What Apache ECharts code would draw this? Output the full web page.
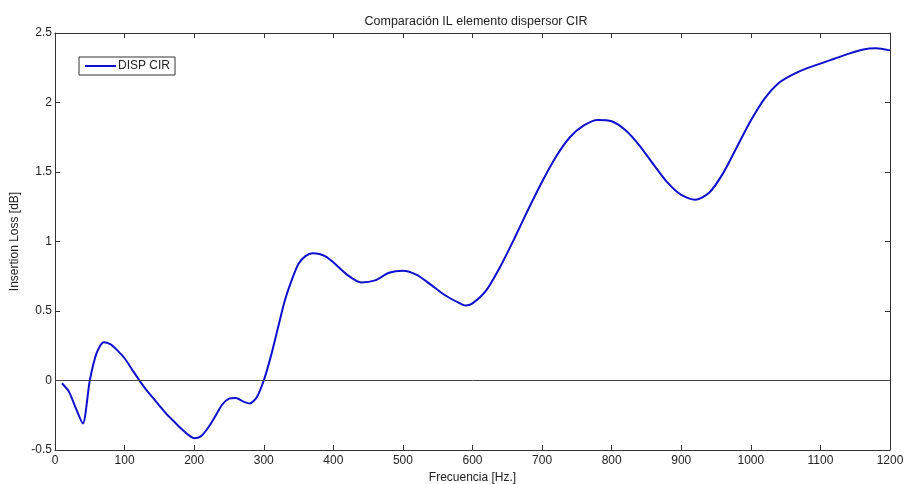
<!DOCTYPE html>
<html>
<head>
<meta charset="utf-8">
<script src="https://cdn.jsdelivr.net/npm/echarts@6/dist/echarts.min.js"></script>
<style>
  html, body { margin: 0; padding: 0; background: #fff; }
  #main { width: 905px; height: 484px; }
</style>
</head>
<body>
<div id="main"></div>
<script>
// frecuencias [Hz]
var freqs = [10, 20, 30, 40, 50, 60, 70, 80, 90, 100, 110, 120, 130, 140, 150, 160, 170, 180, 190, 200,
  210, 220, 230, 240, 250, 260, 270, 280, 290, 300, 310, 320, 330, 340, 350, 360, 370, 380, 390, 400,
  420, 440, 460, 480, 500, 520, 540, 560, 580, 590, 600, 620, 640, 660, 680, 700, 720, 740, 760, 780, 800,
  820, 840, 860, 880, 900, 920, 940, 960, 980, 1000, 1020, 1040, 1060, 1080, 1100, 1120, 1140, 1160, 1180, 1200];
// insertion loss [dB]
var ilDispCir = [-0.02, -0.08, -0.20, -0.31, 0.0, 0.20, 0.275, 0.26, 0.215, 0.16, 0.085, 0.01, -0.06, -0.12, -0.18, -0.24, -0.29, -0.34, -0.385, -0.415,
  -0.40, -0.34, -0.26, -0.175, -0.13, -0.125, -0.15, -0.165, -0.12, 0.0, 0.17, 0.37, 0.57, 0.72, 0.84, 0.895, 0.915, 0.91, 0.89, 0.85,
  0.76, 0.705, 0.72, 0.775, 0.79, 0.76, 0.69, 0.615, 0.56, 0.54, 0.555, 0.65, 0.82, 1.02, 1.23, 1.43, 1.61, 1.75, 1.835, 1.875, 1.865,
  1.80, 1.69, 1.555, 1.425, 1.335, 1.30, 1.35, 1.49, 1.68, 1.87, 2.03, 2.14, 2.20, 2.245, 2.28, 2.315, 2.35, 2.38, 2.39, 2.375];
var seriesName = 'DISP CIR';

var myChart = echarts.init(document.getElementById('main'));
var font = 'Liberation Sans, Arial, sans-serif';
var txt = '#222';
var axisCol = '#333';

var points = [];
for (var i = 0; i < freqs.length; i++) {
  points.push([freqs[i], ilDispCir[i]]);
}

var baseX = {
  type: 'value', min: 0, max: 1200, interval: 100,
  axisLine: { show: true, onZero: false, lineStyle: { color: axisCol, width: 1 } },
  axisTick: { show: true, inside: true, length: 5, lineStyle: { color: axisCol } },
  splitLine: { show: false }
};
var baseY = {
  type: 'value', min: -0.5, max: 2.5, interval: 0.5,
  axisLine: { show: true, onZero: false, lineStyle: { color: axisCol, width: 1 } },
  axisTick: { show: true, inside: true, length: 5, lineStyle: { color: axisCol } },
  splitLine: { show: false }
};

var option = {
  backgroundColor: '#fff',
  animation: false,
  title: {
    text: 'Comparación IL elemento dispersor CIR',
    left: 471, top: 10, textAlign: 'center',
    textStyle: { fontFamily: font, fontSize: 12.5, fontWeight: 'normal', color: txt }
  },
  grid: { left: 55, top: 33, right: 15, bottom: 34, containLabel: false, outerBoundsMode: 'none' },
  legend: {
    data: [seriesName],
    left: 79, top: 57,
    orient: 'vertical',
    icon: 'rect',
    itemWidth: 31, itemHeight: 2, itemGap: 2,
    padding: [3, 5, 3, 6],
    borderColor: '#333', borderWidth: 1,
    textStyle: { fontFamily: font, fontSize: 12, color: txt, padding: [0, 0, 0, -3] }
  },
  xAxis: [
    Object.assign({}, baseX, {
      position: 'bottom',
      name: 'Frecuencia [Hz.]', nameLocation: 'middle', nameGap: 19,
      nameTextStyle: { fontFamily: font, fontSize: 12, color: txt },
      axisLabel: { fontFamily: font, fontSize: 12, color: txt, margin: 5, formatter: function (v) { return String(v); } }
    }),
    Object.assign({}, baseX, { position: 'top', axisLabel: { show: false } })
  ],
  yAxis: [
    Object.assign({}, baseY, {
      position: 'left',
      name: 'Insertion Loss [dB]', nameLocation: 'middle', nameGap: 34,
      nameTextStyle: { fontFamily: font, fontSize: 12, color: txt },
      axisLabel: { fontFamily: font, fontSize: 12, color: txt, margin: 3 }
    }),
    Object.assign({}, baseY, { position: 'right', axisLabel: { show: false } })
  ],
  series: [{
    name: seriesName,
    type: 'line',
    data: points,
    symbol: 'none',
    smooth: 0.25,
    itemStyle: { color: '#1010cc' },
    lineStyle: { color: '#1010cc', width: 2 },
    markLine: {
      silent: true,
      symbol: 'none',
      label: { show: false },
      lineStyle: { color: '#444', width: 1, type: 'solid' },
      data: [{ yAxis: 0 }]
    }
  }]
};
myChart.setOption(option);
</script>
</body>
</html>
